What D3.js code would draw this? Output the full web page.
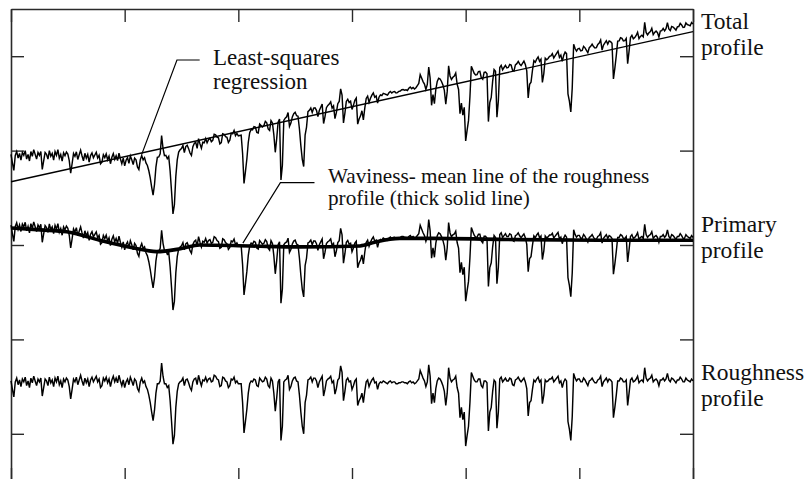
<!DOCTYPE html>
<html>
<head>
<meta charset="utf-8">
<script src="https://cdn.jsdelivr.net/npm/d3@7"></script>
<style>
  html, body { margin: 0; padding: 0; background: #fff; }
  svg { display: block; }
  text { font-family: "Liberation Serif", "Times New Roman", serif; fill: #111; }
</style>
</head>
<body>
<svg id="chart" width="806" height="479"></svg>
<script>
// ---------------- DATA ----------------
// axis ticks (unlabelled)
const xTicks = [0, 1, 2, 3, 4, 5, 6];
const yTicks = [50, 150, 250, 350, 450];

// roughness profile: deviation from its mean line, sampled evenly over x = 0..6
const roughness = [
  3, -6, -14, 2, 6, -1, 4, -3, 5, 2, 7, -2, 3, -4, 6, 1, 8, 3, -2, 5,
  2, 6, -13, -4, 5, 3, -2, 7, 1, 4, -3, 6, 2, 8, -1, 3, -4, 5, 2, 6,
  4, -3, -16, -6, 5, 2, 7, -1, 4, 9, 3, -2, 6, 1, 5, -3, 4, 7, 2, 5,
  8, 2, 5, -4, -2, 6, 3, 7, 1, 5, -3, 4, 8, 2, 6, 1, 9, 3, -2, 4,
  -4, 2, 5, -1, 7, 3, -2, 5, 3, -5, -8, 2, 6, 1, 3, -3, -6, -12, -20, -30,
  -39, -28, -10, 0, 0, 3, 22, 8, 0, 0, -4, -2, -18, -40, -64, -55, -25, -8, 0, 2,
  3, 6, -2, 4, 5, 1, -4, -7, 2, 5, 6, -1, 9, 3, -2, 4, 3, 7, 2, 5,
  6, 2, 3, 9, 8, 5, 4, -3, -2, 7, 6, 3, 2, -4, -2, 5, 4, 7, 1, 3,
  0, 0, 0, -20, -52, -40, -27, -10, 0, 3, 2, 5, 4, -2, -3, 6, 4, 2, 3, 7,
  5, -2, -4, 6, 3, -10, -29, -15, 2, 5, -60, -45, 2, 4, 5, 9, -6, -3, 3, 6,
  7, 3, 2, -12, -30, -45, -53, -20, -12, 4, 5, 7, 2, 6, 6, 3, -4, 2, 5, 8,
  -13, -6, 3, 5, 6, 8, 1, 3, -11, -5, 4, 6, 19, 12, -18, -8, 4, 6, 2, 3,
  -6, -2, 3, 5, -23, -18, -15, -10, -20, -8, 2, 4, -3, 1, 4, 6, 1, 2, -6, 0,
  2, 1, 3, 2, 1, 0, 2, 3, 1, 2, 2, 0, 0, 1, 1, 2, 2, 1, 1, 0,
  2, 3, 1, 2, 0, 1, 3, 5, 14, 10, 6, 3, -3, 2, 20, 8, -21, -10, -20, -5,
  3, 6, 5, 2, -2, -8, -23, -10, 17, 6, 2, 4, 5, 8, -4, -10, -36, -25, -38, -30,
  -66, -55, -45, -20, 12, 8, 4, 2, 2, 5, 5, -2, -4, 3, 3, 1, -50, -30, -25, -8,
  4, 2, -47, -30, 5, 7, 2, 4, 6, 3, 3, 6, 5, -1, -2, 4, 5, 7, 4, 2,
  4, 6, 2, -5, -34, -20, -18, -6, 4, 2, 5, 7, 2, 4, -21, -12, 4, 2, 3, 5,
  5, 7, 2, 4, 6, 8, 1, 3, -4, 2, 5, 3, -40, -48, -60, -35, 11, 6, 3, 5,
  5, 2, 2, 6, 4, 1, -2, 3, 4, 6, 3, 1, 1, 4, 5, 8, -3, 2, 4, 6,
  2, 5, 4, 2, -36, -25, -12, 3, 3, 6, 5, 2, 2, 4, -23, -10, 4, 6, 2, 3,
  5, 8, 1, 3, 4, 2, 17, 6, 3, 5, 6, 9, 2, 4, 5, 3, -2, 4, 4, 6,
  3, 5, 11, 4, 2, 6, 5, 3, 1, 4, 4, 7, 5, 2, 2, 6, 4, 3, 2, 5, 3
];
const roughnessLevel = 103;   // vertical position of the roughness mean line

// waviness (mean line of the primary profile)
const wavinessX = [0, 0.26, 0.49, 0.78, 1.07, 1.28, 1.49, 1.66, 2.1, 2.54, 3.07, 3.2, 3.42, 3.71, 4.3, 5.18, 6];
const wavinessY = [268, 266, 264, 255, 247, 243, 246, 250, 249, 248, 249, 253, 257, 257, 256, 255, 255];

// total-profile form (inclined) mean level
const totalFormX = [0, 0.43, 0.78, 1.09, 1.36, 1.66, 2.1, 2.54, 2.98, 3.42, 3.86, 4.3, 4.74, 5.18, 5.62, 6];
const totalFormY = [343, 343, 340, 337, 345, 354, 369, 385, 399, 412, 423, 433, 445, 459, 470, 481];

// least-squares regression line of total profile
const regressionX = [0, 6];
const regressionY = [317, 476];

// labels
const rightLabels = [
  { lines: ["Total", "profile"], y: 479 },
  { lines: ["Primary", "profile"], y: 264 },
  { lines: ["Roughness", "profile"], y: 107 }
];

// ---------------- CHART ----------------
const mLeft = 11, mRight = 693, mTop = 9, mBottom = 481;
const svg = d3.select("#chart");

const x = d3.scaleLinear().domain([0, 6]).range([mLeft, mRight]);
const y = d3.scaleLinear().domain([0, 500]).range([mBottom, mTop]);

const n = roughness.length;
const xs = roughness.map((_, i) => 6 * i / (n - 1));

const wav = d3.scaleLinear().domain(wavinessX).range(wavinessY);
const form = d3.scaleLinear().domain(totalFormX).range(totalFormY);

const roughPts = roughness.map((r, i) => [xs[i], roughnessLevel + r]);
const primaryPts = roughness.map((r, i) => [xs[i], wav(xs[i]) + r]);
const totalPts = roughness.map((r, i) => [xs[i], form(xs[i]) + r]);

const line = d3.line().x(d => x(d[0])).y(d => y(d[1]));
const smooth = d3.line().x(d => x(d[0])).y(d => y(d[1])).curve(d3.curveMonotoneX);

// frame + ticks
function styleAxis(g) {
  g.selectAll("path.domain").attr("stroke", "#2a2a2a").attr("stroke-width", 1.6);
  g.selectAll(".tick line").attr("stroke", "#2a2a2a").attr("stroke-width", 1.4);
  g.selectAll(".tick text").remove();
}
svg.append("g").attr("transform", `translate(${mLeft},0)`)
  .call(d3.axisLeft(y).tickValues(yTicks).tickSize(-13).tickSizeOuter(0).tickFormat("")).call(styleAxis);
svg.append("g").attr("transform", `translate(${mRight},0)`)
  .call(d3.axisRight(y).tickValues(yTicks).tickSize(-13).tickSizeOuter(0).tickFormat("")).call(styleAxis);
svg.append("g").attr("transform", `translate(0,${mTop})`)
  .call(d3.axisTop(x).tickValues(xTicks).tickSize(-13).tickSizeOuter(0).tickFormat("")).call(styleAxis);
svg.append("g").attr("transform", `translate(0,${mBottom})`)
  .call(d3.axisBottom(x).tickValues(xTicks).tickSize(-13).tickSizeOuter(0).tickFormat("")).call(styleAxis);

// waviness thick line
svg.append("path")
  .datum(wavinessX.map((v, i) => [v, wavinessY[i]]))
  .attr("d", smooth).attr("fill", "none").attr("stroke", "#000").attr("stroke-width", 3.6);

// regression line
svg.append("path")
  .datum(regressionX.map((v, i) => [v, regressionY[i]]))
  .attr("d", line).attr("fill", "none").attr("stroke", "#000").attr("stroke-width", 1.4);

// profiles
[totalPts, primaryPts, roughPts].forEach(pts => {
  svg.append("path").datum(pts).attr("d", line)
    .attr("fill", "none").attr("stroke", "#000").attr("stroke-width", 1.45)
    .attr("stroke-linejoin", "miter");
});

// right labels
rightLabels.forEach(l => {
  const t = svg.append("text").attr("x", 701).attr("y", y(l.y)).attr("font-size", 23.5);
  l.lines.forEach((s, i) => t.append("tspan").attr("x", 701).attr("dy", i === 0 ? 0 : 26.5).text(s));
});

// annotation: least-squares regression
const lsLeader = [[1.66, 446], [1.46, 446], [1.15, 346]];
svg.append("path").datum(lsLeader).attr("d", line).attr("fill", "none").attr("stroke", "#000").attr("stroke-width", 1.2);
const t1 = svg.append("text").attr("x", 213).attr("y", 65).attr("font-size", 23);
t1.append("tspan").attr("x", 213).text("Least-squares");
t1.append("tspan").attr("x", 213).attr("dy", 23.5).text("regression");

// annotation: waviness
const wavLeader = [[2.67, 316], [2.37, 316], [2.04, 252]];
svg.append("path").datum(wavLeader).attr("d", line).attr("fill", "none").attr("stroke", "#000").attr("stroke-width", 1.2);
const t2 = svg.append("text").attr("x", 328).attr("y", 183).attr("font-size", 21.2);
t2.append("tspan").attr("x", 328).text("Waviness- mean line of the roughness");
t2.append("tspan").attr("x", 328).attr("dy", 22).text("profile (thick solid line)");
</script>
</body>
</html>
